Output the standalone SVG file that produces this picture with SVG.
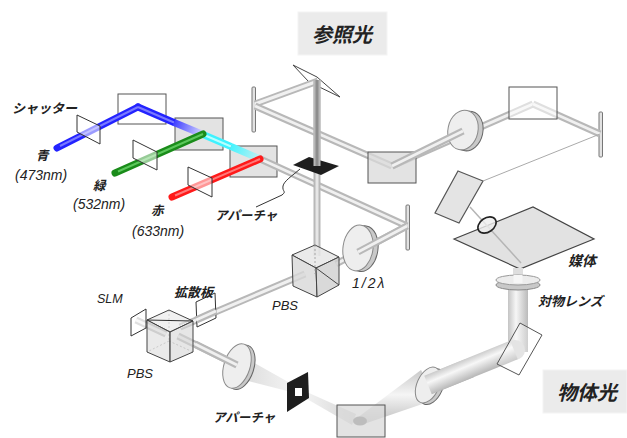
<svg xmlns="http://www.w3.org/2000/svg" width="627" height="438" viewBox="0 0 627 438">
<defs>
<style>
.jp{font-family:"Noto Sans CJK JP","Noto Sans",sans-serif;font-style:italic;font-weight:bold;fill:#222}
.en{font-family:"Liberation Sans",Arial,sans-serif;font-style:italic;fill:#222}
.rod{fill:none;stroke:#b8b8b8;stroke-width:7}
.rodin{fill:none;stroke:#f0f0f0;stroke-width:3}
.thin{fill:none;stroke:#aaaaaa;stroke-width:1}
.plate{fill:#ffffff;fill-opacity:.55;stroke:#333;stroke-width:1;stroke-linejoin:round}
.box{fill:#d9d9d9;fill-opacity:.75;stroke:#555;stroke-width:1}
.mir{fill:#ffffff;fill-opacity:.55;stroke:#555;stroke-width:1}
.bar{fill:#e2e2e2;stroke:#777;stroke-width:1}
.lbl{fill:#ebebeb;stroke:#f4f4f4;stroke-width:1}
.rim{fill:#c9c9c9;stroke:#666;stroke-width:1}
.face{fill:#eeeeee;stroke:#8a8a8a;stroke-width:1}
.cube{stroke:#444;stroke-width:1;stroke-linejoin:round}
.hid{fill:none;stroke:#999;stroke-width:.8;stroke-dasharray:2 2}
</style>
<linearGradient id="lav" gradientUnits="userSpaceOnUse" x1="173" y1="122" x2="203" y2="134">
<stop offset="0" stop-color="#3a3aff"/><stop offset="1" stop-color="#d8d8ff"/>
</linearGradient>
<linearGradient id="cyanfade" gradientUnits="userSpaceOnUse" x1="230" y1="146" x2="262" y2="160">
<stop offset="0" stop-color="#40f4ff"/><stop offset="1" stop-color="#d0eef0"/>
</linearGradient>
<linearGradient id="tube" gradientUnits="userSpaceOnUse" x1="468" y1="358" x2="476" y2="377">
<stop offset="0" stop-color="#cdcdcd"/><stop offset=".35" stop-color="#f7f7f7"/><stop offset="1" stop-color="#b3b3b3"/>
</linearGradient>
<linearGradient id="vtube" gradientUnits="userSpaceOnUse" x1="508" y1="0" x2="528" y2="0">
<stop offset="0" stop-color="#c4c4c4"/><stop offset=".4" stop-color="#f6f6f6"/><stop offset="1" stop-color="#bababa"/>
</linearGradient>
<linearGradient id="cone" x1="0" y1="0" x2="0" y2="1">
<stop offset="0" stop-color="#c9c9c9"/><stop offset=".45" stop-color="#f5f5f5"/><stop offset="1" stop-color="#bcbcbc"/>
</linearGradient>
<linearGradient id="faint" x1="0" y1="0" x2="1" y2="0">
<stop offset="0" stop-color="#dcdcdc" stop-opacity=".3"/><stop offset="1" stop-color="#d4d4d4"/>
</linearGradient>
<linearGradient id="faint2" x1="0" y1="0" x2="1" y2="0">
<stop offset="0" stop-color="#d8d8d8"/><stop offset="1" stop-color="#e4e4e4" stop-opacity=".4"/>
</linearGradient>
</defs>

<!-- title boxes -->
<g id="label-reference">
<rect class="lbl" x="298" y="12" width="89" height="43"/>
<text class="jp" x="342" y="42" font-size="20" text-anchor="middle">参照光</text>
</g>
<g id="label-object">
<rect class="lbl" x="543" y="370" width="84" height="43"/>
<text class="jp" x="587" y="400" font-size="20" text-anchor="middle">物体光</text>
</g>

<!-- mirrors and plates that sit behind the beams -->
<g id="mirror-blue"><rect class="mir" x="118" y="94" width="48" height="30"/></g>
<g id="dichroic-green"><rect class="box" x="175" y="118" width="48" height="32"/></g>
<g id="dichroic-red"><rect class="box" x="230" y="146" width="47" height="31"/></g>
<g id="mirror-left"><rect class="bar" x="252" y="87" width="3.5" height="45" rx="1"/></g>
<g id="mirror-top"><polygon points="293,65 317,77 340,97 309,82" fill="#fff" stroke="#444" stroke-width="1"/></g>
<g id="mirror-right"><rect class="bar" x="599" y="112" width="3.5" height="45" rx="1"/></g>
<g id="mirror-mid"><rect class="bar" x="406" y="205" width="3.5" height="45" rx="1"/></g>
<g id="medium">
<polygon points="454,239 533,207 594,239 520,269" fill="#e2e2e2" stroke="#444" stroke-width="1.2"/>
<text class="jp" x="568" y="266" font-size="14">媒体</text>
</g>
<g id="mirror-tilted"><polygon points="458,171 483,181 459,223 435,213" fill="#e4e4e4" stroke="#555" stroke-width="1.2"/></g>

<!-- beams -->
<g id="connectors">
<!-- reference arm -->
<line class="rod" x1="255" y1="104" x2="318" y2="81"/><line class="rodin" x1="255" y1="104" x2="318" y2="81"/>
<line class="rod" x1="255" y1="106" x2="392" y2="166"/><line class="rodin" x1="255" y1="106" x2="392" y2="166"/>
<line class="rod" x1="392" y1="166" x2="533" y2="104"/><line class="rodin" x1="392" y1="166" x2="533" y2="104"/>
<line class="rod" x1="533" y1="104" x2="600" y2="134"/><line class="rodin" x1="533" y1="104" x2="600" y2="134"/>
<line class="thin" x1="600" y1="134" x2="483" y2="181"/>
<line x1="470" y1="207" x2="521" y2="263" stroke="#b5b5b5" stroke-width="1.5"/>
<!-- combined laser beam -->
<line class="rod" x1="258" y1="158" x2="407" y2="226"/><line class="rodin" x1="258" y1="158" x2="407" y2="226"/>
<line class="rod" x1="407" y1="226" x2="336" y2="264"/><line class="rodin" x1="407" y1="226" x2="336" y2="264"/>
<!-- vertical reference beam -->
<line class="rod" x1="317" y1="80" x2="317" y2="256" stroke-width="9"/><line x1="317" y1="80" x2="317" y2="256" stroke="#e6e6e6" stroke-width="3"/>
<!-- object arm -->
<line class="rod" x1="305" y1="274" x2="180" y2="327"/><line class="rodin" x1="305" y1="274" x2="180" y2="327"/>
<line class="rod" x1="136" y1="320" x2="166" y2="334"/><line class="rodin" x1="136" y1="320" x2="166" y2="334"/>
<line class="rod" x1="178" y1="336" x2="237" y2="365"/><line class="rodin" x1="178" y1="336" x2="237" y2="365"/>
<polygon points="240,355 236,378 299,394 299,388" fill="url(#faint2)"/>
<polygon points="300,389 300,395 352,425 356,414" fill="url(#faint)"/>
<polygon points="357,418 361,425 437,399 421,370" fill="url(#cone)"/>
<line x1="518" y1="268" x2="518" y2="281" stroke="#dedede" stroke-width="10"/>
<line x1="518" y1="286" x2="518" y2="352" stroke="url(#vtube)" stroke-width="20"/>
<circle cx="515" cy="350" r="10" fill="#d8d8d8"/>
<line x1="430" y1="384" x2="514" y2="350" stroke="url(#tube)" stroke-width="20"/>
<!-- colour lasers -->
<line x1="57" y1="148" x2="138" y2="107" stroke="#2323ff" stroke-width="7" stroke-linecap="round"/>
<line x1="138" y1="107" x2="174" y2="122.5" stroke="#2323ff" stroke-width="7" stroke-linecap="round"/>
<line x1="60" y1="146" x2="138" y2="107" stroke="#7a7aff" stroke-width="2"/>
<line x1="138" y1="107" x2="174" y2="122.5" stroke="#7a7aff" stroke-width="2"/>
<line x1="174" y1="122.5" x2="203" y2="134.5" stroke="url(#lav)" stroke-width="7"/>
<line x1="203" y1="134.5" x2="231" y2="146.5" stroke="#3ff2ff" stroke-width="7"/>
<line x1="203" y1="134.5" x2="231" y2="146.5" stroke="#b8ffff" stroke-width="2"/>
<line x1="231" y1="146.5" x2="260" y2="159" stroke="url(#cyanfade)" stroke-width="7"/>
<line x1="115" y1="173" x2="203" y2="134" stroke="#1a8c1a" stroke-width="7" stroke-linecap="round"/>
<line x1="118" y1="171.5" x2="203" y2="134" stroke="#5cc85c" stroke-width="2"/>
<line x1="172" y1="197" x2="260" y2="159" stroke="#ff1a1a" stroke-width="7" stroke-linecap="round"/>
<line x1="175" y1="195.5" x2="260" y2="159" stroke="#ff7a7a" stroke-width="2"/>
</g>

<!-- shutters -->
<g id="shutter-blue"><polygon class="plate" points="77,115 100,126 100,144 77,132"/></g>
<g id="shutter-green"><polygon class="plate" points="133,140 157,152 157,170 133,158"/></g>
<g id="shutter-red"><polygon class="plate" points="188,167 212,178 212,197 188,185"/></g>

<!-- boxes with the reflected beam seen through them -->
<g id="mirror-ref1"><rect class="box" x="368" y="152" width="48" height="31"/></g>
<g id="mirror-ref2"><rect class="mir" x="509" y="87" width="48" height="32"/></g>

<!-- reference lens -->
<g id="lens-ref">
<g transform="translate(463,130) rotate(12)">
<ellipse class="rim" cx="5" cy="0" rx="15" ry="20"/>
<ellipse class="face" cx="0" cy="0" rx="15" ry="20"/>
</g>
<line class="rod" x1="392" y1="166" x2="463" y2="131"/><line class="rodin" x1="392" y1="166" x2="463" y2="131"/>
</g>

<!-- apertures -->
<g id="aperture-ref">
<polygon points="293,165 309,157 339,166 321,175" fill="#1e1e1e"/>
<line class="rod" x1="317" y1="80" x2="317" y2="166" stroke-width="9"/><line x1="317" y1="80" x2="317" y2="166" stroke="#8e8e8e" stroke-width="3"/>
<path d="M300,169 C292,176 284,181 283,186 C282,192 287,191 282,195 L256,207" fill="none" stroke="#333" stroke-width="1"/>
<text class="jp" x="215" y="220" font-size="12.5">アパーチャ</text>
</g>
<g id="aperture-obj">
<polygon points="287,383 308,372 309,398 287,412" fill="#1e1e1e"/>
<rect x="295" y="388" width="7" height="8" fill="#fff"/>
<text class="jp" x="213" y="422" font-size="12.5">アパーチャ</text>
</g>

<!-- half-wave plate -->
<g id="halfwave">
<g transform="translate(358,248) rotate(8)">
<ellipse class="rim" cx="5" cy="0" rx="15" ry="23"/>
<ellipse class="face" cx="0" cy="0" rx="15" ry="23"/>
</g>
<line class="rod" x1="407" y1="226" x2="358" y2="252"/><line class="rodin" x1="407" y1="226" x2="358" y2="252"/>
<text class="en" x="352" y="288" font-size="14" letter-spacing="2">1/2λ</text>
</g>

<!-- beam splitter cubes -->
<g id="pbs-upper">
<polygon class="cube" points="292,255 315,245 339,257 316,268" fill="#e6e6e6" fill-opacity=".85"/>
<polygon class="cube" points="292,255 316,268 317,297 293,286" fill="#d8d8d8" fill-opacity=".8"/>
<polygon class="cube" points="316,268 339,257 339,285 317,297" fill="#d0d0d0" fill-opacity=".8"/>
<line x1="316" y1="268" x2="339" y2="285" stroke="#444" stroke-width="1"/>
<line class="hid" x1="315" y1="245" x2="315" y2="274"/>
<text class="en" x="272" y="310" font-size="13">PBS</text>
</g>
<g id="pbs-lower">
<line class="hid" x1="169" y1="310" x2="169" y2="341"/>
<line class="hid" x1="169" y1="341" x2="147" y2="352"/>
<line class="hid" x1="169" y1="341" x2="193" y2="352"/>
<polygon class="cube" points="147,320 169,310 193,321 170,332" fill="#e8e8e8" fill-opacity=".6"/>
<polygon class="cube" points="147,320 170,332 170,362 147,352" fill="#dcdcdc" fill-opacity=".6"/>
<polygon class="cube" points="170,332 193,321 193,352 170,362" fill="#d6d6d6" fill-opacity=".6"/>
<line x1="147" y1="320" x2="193" y2="321" stroke="#333" stroke-width="1.2"/>
<text class="en" x="127" y="378" font-size="13">PBS</text>
</g>
<g id="slm">
<polygon class="plate" points="131,318 146,309 146,328 131,336"/>
<text class="en" x="97" y="303" font-size="12.5">SLM</text>
</g>
<g id="diffuser">
<polygon class="plate" points="196,302 215,293 216,318 197,327" fill="#dddddd"/>
<line class="rod" x1="216" y1="311" x2="196" y2="320"/><line class="rodin" x1="216" y1="311" x2="196" y2="320"/>
<text class="jp" x="174" y="297" font-size="13">拡散板</text>
</g>

<!-- object lenses -->
<g id="lens-obj1">
<g transform="translate(237,366) rotate(18)">
<ellipse class="rim" cx="4" cy="0" rx="13" ry="23"/>
<ellipse class="face" cx="0" cy="0" rx="13" ry="23"/>
</g>
<line class="rod" x1="195" y1="344" x2="237" y2="365"/><line class="rodin" x1="195" y1="344" x2="237" y2="365"/>
</g>
<g id="mirror-obj"><rect class="box" x="337" y="405" width="48" height="32"/><ellipse cx="360" cy="421" rx="7" ry="4.5" fill="#bdbdbd"/></g>
<g id="lens-obj2">
<g transform="translate(428,385) rotate(24)">
<ellipse class="rim" cx="4" cy="0" rx="11" ry="19"/>
<ellipse class="face" cx="0" cy="0" rx="11" ry="19"/>
</g>
<line x1="428" y1="385" x2="470" y2="368" stroke="url(#tube)" stroke-width="20"/>
</g>
<g id="mirror-bend"><polygon points="520,323 542,335 519,375 497,364" fill="#ffffff" fill-opacity=".3" stroke="#555" stroke-width="1"/></g>

<!-- objective -->
<g id="objective">
<ellipse cx="518" cy="285" rx="22" ry="5" fill="#c8c8c8" stroke="#888" stroke-width="1"/>
<ellipse cx="518" cy="280" rx="22" ry="5" fill="#ececec" stroke="#999" stroke-width="1"/>
<line x1="518" y1="275" x2="518" y2="283" stroke="#f6f6f6" stroke-width="9"/>
<text class="jp" x="538" y="306" font-size="13">対物レンズ</text>
</g>

<!-- lens in front of the medium -->
<g id="lens-medium"><ellipse cx="487" cy="225" rx="10" ry="7" transform="rotate(-35 487 225)" fill="#eeeeee" fill-opacity=".8" stroke="#222" stroke-width="1.6"/></g>

<!-- laser labels -->
<g id="labels-lasers">
<text class="jp" x="12" y="113" font-size="13">シャッター</text>
<text class="jp" x="36" y="160" font-size="12.5">青</text>
<text class="en" x="15" y="180" font-size="14">(473nm)</text>
<text class="jp" x="93" y="190" font-size="12.5">緑</text>
<text class="en" x="73" y="209" font-size="14">(532nm)</text>
<text class="jp" x="151" y="215" font-size="12.5">赤</text>
<text class="en" x="132" y="236" font-size="14">(633nm)</text>
</g>
</svg>
